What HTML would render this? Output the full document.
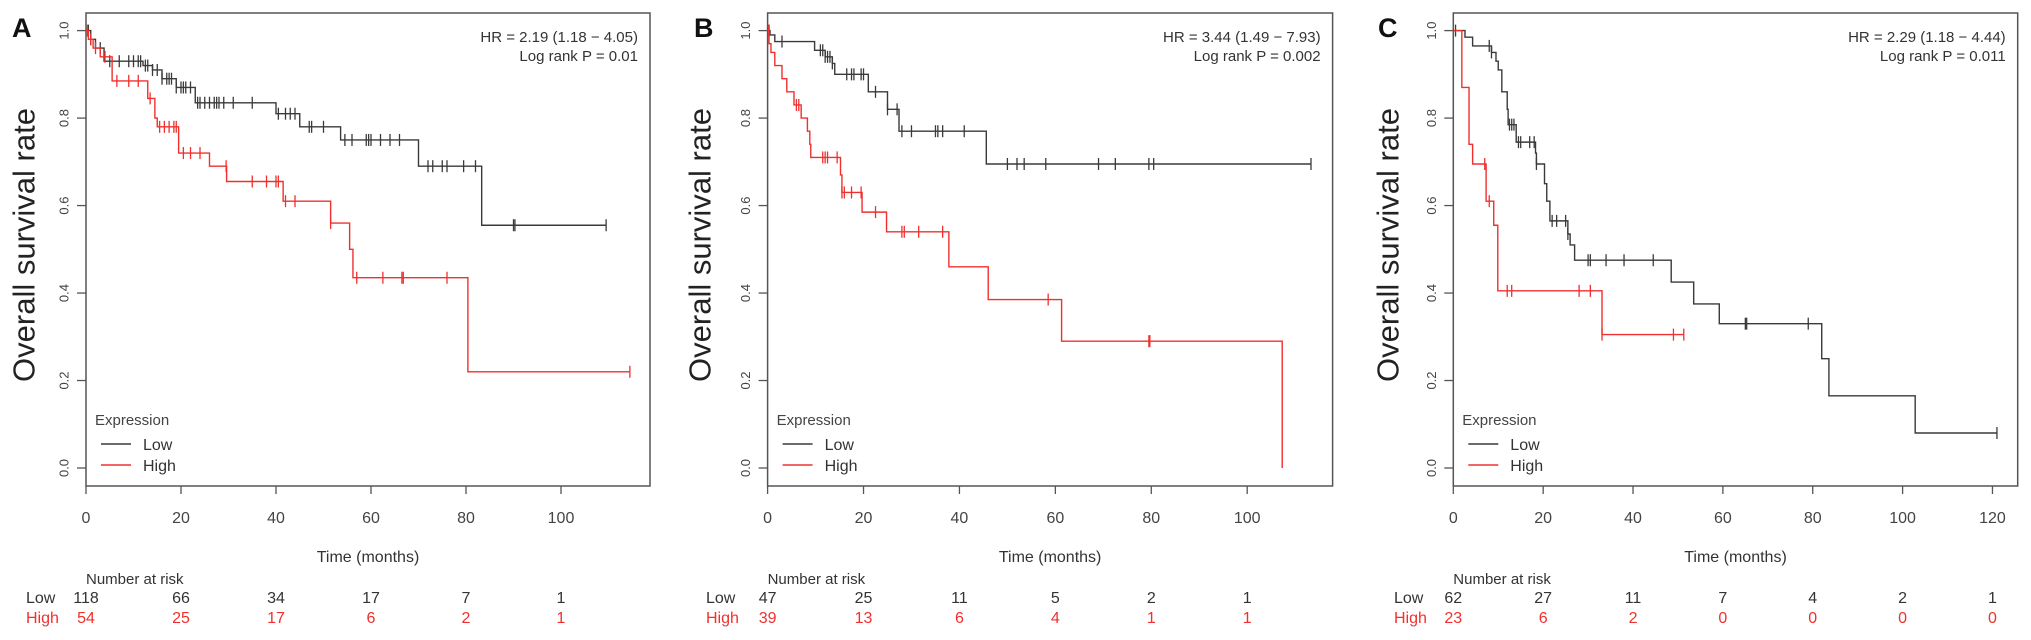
<!DOCTYPE html>
<html><head><meta charset="utf-8"><style>
html,body{margin:0;padding:0;background:#fff;}
svg{display:block;font-family:"Liberation Sans",Arial,sans-serif;}
</style></head><body>
<svg id="fig" width="2031" height="640" viewBox="0 0 2031 640"></svg>
<script>
// ---------- Panel A data ----------
const aLowTimes=[1,2,3.8,12,14,16,19,23,40,45,53.6,70,83.3];
const aLowSurv=[0.98,0.96,0.93,0.92,0.91,0.89,0.87,0.835,0.81,0.78,0.75,0.69,0.555];
const aLowEnd=109.5;
const aLowCens=[0.5,1,3,5,7,9,10,11,11.5,12.5,13,14,15,16,17,17.5,18,19,20,20.5,21,22,23.5,24,25,26,27,27.5,28,29,31,35,40.5,42,43,44,47,47.5,50,54.5,56,59,59.5,60,62,64,66,72,73,75,76,79.5,82,90,90.3,109.5];
const aHighTimes=[0.5,1.5,3,5.5,13,14.5,15,19.5,26,29.6,41.5,51.5,55.5,56.2,80.4];
const aHighSurv=[0.98,0.96,0.94,0.885,0.845,0.80,0.78,0.72,0.69,0.655,0.61,0.56,0.50,0.435,0.22];
const aHighEnd=114.5;
const aHighCens=[0.3,1,2,4,6.5,9,11,13.5,15.5,16.5,17.5,18.5,19,20.5,22,24,29.5,35,38,40,40.5,42,44,51.5,57,62.5,66.5,66.8,76,114.5];
const aRiskLow=[118,66,34,17,7,1];
const aRiskHigh=[54,25,17,6,2,1];
// ---------- Panel B data ----------
const bLowTimes=[0.5,1.5,9.8,12,13.5,14,21,25,27.4,45.6];
const bLowSurv=[0.99,0.975,0.955,0.94,0.925,0.90,0.86,0.82,0.77,0.695];
const bLowEnd=113.3;
const bLowCens=[0.3,3,11,11.5,12,12.5,13,13.5,16.5,17.5,18,19.5,20,22.5,25,27,28,30,35,35.5,36.5,41,50,52,53.5,58,69,72.5,79.5,80.5,113.3];
const bHighTimes=[0.3,0.7,1.5,3,4,5.5,7,8.3,8.8,9,15.2,15.5,19.7,24.8,37.8,46,61.3,107.3];
const bHighSurv=[0.97,0.95,0.92,0.89,0.86,0.83,0.80,0.77,0.74,0.71,0.67,0.63,0.585,0.54,0.46,0.385,0.29,0];
const bHighEnd=107.3;
const bHighCens=[0.2,6,6.5,11.5,12,12.5,14.5,15.5,16,17.5,19.5,22.5,28,28.5,31.5,36.5,58.5,79.5,79.7];
const bRiskLow=[47,25,11,5,2,1];
const bRiskHigh=[39,13,6,4,1,1];
// ---------- Panel C data ----------
const cLowTimes=[2.6,4.3,8.5,9.5,10,10.8,12,12.2,14,18.3,18.5,20.3,20.8,21.5,25.5,26,27,48.5,53.5,59.2,82,83.6,102.8];
const cLowSurv=[0.985,0.965,0.95,0.93,0.91,0.86,0.82,0.785,0.745,0.72,0.695,0.65,0.61,0.565,0.535,0.51,0.475,0.425,0.375,0.33,0.25,0.165,0.08];
const cLowEnd=121;
const cLowCens=[0.5,8,8.5,12.5,13,13.5,14.5,15,17,18,18.5,22,23,25,25.5,30,30.5,34,38,44.5,65,65.3,79,121];
const cHighTimes=[1.9,3.5,4.3,7.3,9,9.9,33.1];
const cHighSurv=[0.87,0.74,0.695,0.61,0.555,0.405,0.305];
const cHighEnd=51.3;
const cHighCens=[7,8,12,13,28,30.5,33.1,49,51.3];
const cRiskLow=[62,27,11,7,4,2,1];
const cRiskHigh=[23,6,2,0,0,0,0];
const yTicks=[0,0.2,0.4,0.6,0.8,1.0];
const yTickLabels=["0.0","0.2","0.4","0.6","0.8","1.0"];

const NS="http://www.w3.org/2000/svg";
const svg=document.getElementById('fig');
const LOW="#3a3a3a", HIGH="#f0302e";
function mk(tag,attrs,parent,text){
  const e=document.createElementNS(NS,tag);
  for(const k in attrs)e.setAttribute(k,attrs[k]);
  if(text!==undefined)e.textContent=text;
  (parent||svg).appendChild(e);return e;
}
function survAt(times,surv,t){let s=1;for(let i=0;i<times.length;i++){if(times[i]<=t)s=surv[i];}return s;}

function panel(cfg){
  const g=mk('g',{});
  
  
  const X=t=>cfg.x0+t*cfg.ppm;
  const Y=v=>468-(v)*437.4;
  // box
  const box=mk('rect',{x:cfg.left,y:13,width:cfg.right-cfg.left,height:486-13,fill:'none',stroke:'#555','stroke-width':1.5},g);
  
  
  // y axis
  yTicks.forEach((v,i)=>{
    mk('line',{x1:cfg.left-9,x2:cfg.left,y1:Y(v),y2:Y(v),stroke:'#555','stroke-width':1.3},g);
    const t=mk('text',{x:0,y:0,transform:`translate(${cfg.left-22},${Y(v)}) rotate(-90)`,'text-anchor':'middle','dominant-baseline':'central','font-size':13,fill:'#444'},g,yTickLabels[i]);
    
    
  });
  // x axis
  const ticks=[];for(let t=0;t<=cfg.xmax;t+=20)ticks.push(t);
  ticks.forEach(t=>{
    mk('line',{x1:X(t),x2:X(t),y1:486,y2:494,stroke:'#555','stroke-width':1.3},g);
    const tl=mk('text',{x:X(t),y:523,'text-anchor':'middle','font-size':16,fill:'#444'},g,String(t));
    
    
  });
  const xt=mk('text',{x:(cfg.left+cfg.right)/2,y:562,'text-anchor':'middle','font-size':16,fill:'#333'},g,'Time (months)');
  
  
  const yt=mk('text',{x:0,y:0,transform:`translate(${cfg.ylabX},245) rotate(-90)`,'text-anchor':'middle','dominant-baseline':'central','font-size':31,fill:'#222'},g,'Overall survival rate');
  
  
  const lt=mk('text',{x:cfg.letX,y:37,'font-size':27,'font-weight':'bold',fill:'#111'},g,cfg.letter);
  
  
  // HR
  const hr=mk('text',{x:cfg.right-12,y:42,'text-anchor':'end','font-size':15,fill:'#333'},g,cfg.hr);
  
  
  const lp=mk('text',{x:cfg.right-12,y:61,'text-anchor':'end','font-size':15,fill:'#333'},g,cfg.p);
  
  
  // curves
  function curve(times,surv,end,cens,col,name){
    let d=`M${X(0)},${Y(1)}`;let cur=1;
    for(let i=0;i<times.length;i++){d+=` H${X(times[i])} V${Y(surv[i])}`;cur=surv[i];}
    d+=` H${X(end)}`;
    const p=mk('path',{d:d,fill:'none',stroke:col,'stroke-width':1.4},g);
    
    
    cens.forEach(t=>{
      const v=survAt(times,surv,t);
      const c=mk('line',{x1:X(t),x2:X(t),y1:Y(v)-6,y2:Y(v)+6,stroke:col,'stroke-width':1.3},g);
      
      
    });
  }
  curve(cfg.lowT,cfg.lowS,cfg.lowE,cfg.lowC,LOW,'low');
  curve(cfg.highT,cfg.highS,cfg.highE,cfg.highC,HIGH,'high');
  // legend
  const lg=mk('g',{},g);
  
  
  const L=cfg.left;
  mk('text',{x:L+9,y:425,'font-size':15,fill:'#444'},lg,'Expression');
  mk('line',{x1:L+15,x2:L+45,y1:444,y2:444,stroke:LOW,'stroke-width':1.4},lg);
  const l1=mk('text',{x:L+57,y:450,'font-size':16,fill:'#333'},lg,'Low');
  
  
  mk('line',{x1:L+15,x2:L+45,y1:465,y2:465,stroke:HIGH,'stroke-width':1.4},lg);
  const l2=mk('text',{x:L+57,y:471,'font-size':16,fill:'#333'},lg,'High');
  
  
  // risk table
  const nr=mk('text',{x:cfg.x0,y:584,'font-size':15,fill:'#333'},g,'Number at risk');
  
  
  mk('text',{x:cfg.rlX,y:603,'font-size':16,fill:'#333'},g,'Low');
  mk('text',{x:cfg.rlX,y:623,'font-size':16,fill:HIGH},g,'High');
  cfg.rLow.forEach((n,i)=>{
    const t=mk('text',{x:X(i*20),y:603,'text-anchor':'middle','font-size':16,fill:'#333'},g,String(n));
    
    
  });
  cfg.rHigh.forEach((n,i)=>{
    const t=mk('text',{x:X(i*20),y:623,'text-anchor':'middle','font-size':16,fill:HIGH},g,String(n));
    
    
  });
}
panel({letter:'A',left:86,right:650,x0:86,ppm:4.75,xmax:100,ylabX:24,letX:12,rlX:26,
  hr:'HR = 2.19 (1.18 − 4.05)',p:'Log rank  P = 0.01',
  lowT:aLowTimes,lowS:aLowSurv,lowE:aLowEnd,lowC:aLowCens,
  highT:aHighTimes,highS:aHighSurv,highE:aHighEnd,highC:aHighCens,rLow:aRiskLow,rHigh:aRiskHigh});
panel({letter:'B',left:767.6,right:1332.6,x0:767.6,ppm:4.796,xmax:100,ylabX:700,letX:694,rlX:706,
  hr:'HR = 3.44 (1.49 − 7.93)',p:'Log rank  P = 0.002',
  lowT:bLowTimes,lowS:bLowSurv,lowE:bLowEnd,lowC:bLowCens,
  highT:bHighTimes,highS:bHighSurv,highE:bHighEnd,highC:bHighCens,rLow:bRiskLow,rHigh:bRiskHigh});
panel({letter:'C',left:1453.3,right:2017.7,x0:1453.3,ppm:4.493,xmax:120,ylabX:1388,letX:1378,rlX:1394,
  hr:'HR = 2.29 (1.18 − 4.44)',p:'Log rank  P = 0.011',
  lowT:cLowTimes,lowS:cLowSurv,lowE:cLowEnd,lowC:cLowCens,
  highT:cHighTimes,highS:cHighSurv,highE:cHighEnd,highC:cHighCens,rLow:cRiskLow,rHigh:cRiskHigh});
</script>
</body></html>
